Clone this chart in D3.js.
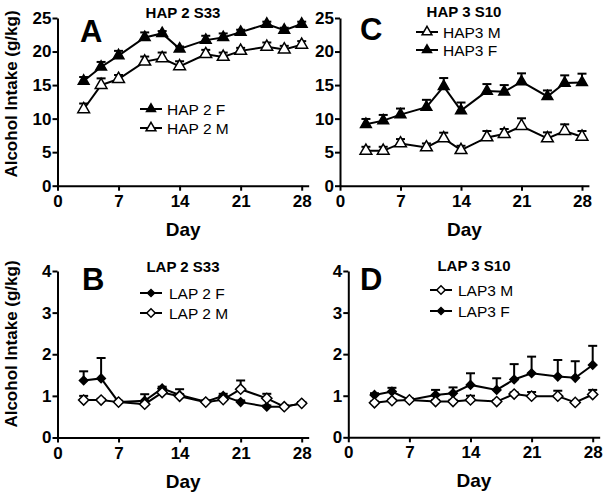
<!DOCTYPE html>
<html>
<head>
<meta charset="utf-8">
<script src="https://cdn.jsdelivr.net/npm/d3@7"></script>
<style>
    body { margin: 0; background: #fff; }
    svg text { font-family: Arial, "Liberation Sans", sans-serif; fill: #000; }
    .axis path, .axis line { stroke: #000; stroke-width: 2; }
    .axis text { font-size: 17px; font-weight: bold; font-family: Arial, "Liberation Sans", sans-serif; }
</style>
</head>
<body>
<svg id="chart" width="604" height="496"></svg>
<script>
// data
const days = [3, 5, 7, 10, 12, 14, 17, 19, 21, 24, 26, 28];
const xTicks = [0, 7, 14, 21, 28];
const hapTicks = [0, 5, 10, 15, 20, 25];
const lapTicks = [0, 1, 2, 3, 4];

const hap2F = [15.6, 17.7, 19.4, 22.1, 22.7, 20.4, 21.7, 22.1, 22.9, 24.1, 23.2, 24.1];
const hap2FErr = [0.6, 0.75, 0.7, 0.75, 0.35, 0.35, 0.65, 0.6, 0.35, 0.35, 0.35, 0.35];
const hap2M = [11.4, 15.0, 15.9, 18.5, 19.0, 17.8, 19.6, 19.2, 20.1, 20.7, 20.3, 21.0];
const hap2MErr = [0.85, 1.0, 0.6, 0.75, 0.85, 0.75, 0.65, 0.65, 0.45, 0.65, 0.55, 0.55];

const hap3M = [5.2, 5.2, 6.3, 5.7, 7.05, 5.3, 7.2, 7.7, 8.9, 7.05, 8.15, 7.3];
const hap3MErr = [0.6, 0.6, 0.65, 0.6, 0.85, 0.65, 0.95, 0.75, 1.15, 0.9, 1.0, 0.85];
const hap3F = [9.15, 9.7, 10.6, 11.7, 14.8, 11.2, 14.1, 14.0, 15.5, 13.3, 15.3, 15.4];
const hap3FErr = [0.8, 0.85, 0.9, 1.1, 1.25, 1.2, 1.05, 1.0, 1.25, 0.9, 1.15, 1.3];

const lap2F = [1.37, 1.42, 0.85, 0.88, 1.18, 1.02, 0.86, 1.0, 0.85, 0.74, 0.74, 0.82];
const lap2FErr = [0.22, 0.49, 0.03, 0.16, 0.04, 0.14, 0.03, 0.05, 0.04, 0.03, 0.03, 0.03];
const lap2M = [0.9, 0.9, 0.85, 0.8, 1.08, 0.99, 0.85, 0.91, 1.16, 0.94, 0.74, 0.82];
const lap2MErr = [0.1, 0.03, 0.03, 0.05, 0.05, 0.05, 0.03, 0.04, 0.21, 0.11, 0.03, 0.03];

const lap3M = [0.83, 0.88, 0.9, 0.86, 0.86, 0.9, 0.86, 1.04, 0.99, 0.99, 0.84, 1.03];
const lap3MErr = [0.03, 0.03, 0.03, 0.04, 0.04, 0.1, 0.03, 0.04, 0.1, 0.13, 0.03, 0.11];
const lap3F = [1.02, 1.1, 0.9, 1.02, 1.06, 1.26, 1.14, 1.39, 1.54, 1.46, 1.43, 1.74];
const lap3FErr = [0.04, 0.09, 0.03, 0.12, 0.14, 0.28, 0.28, 0.37, 0.4, 0.4, 0.4, 0.46];

let svg = d3.select("#chart");

// panel layout (pixel positions measured on the figure)
let panels = [
    {letter: "A", title: "HAP 2 S33", x0: 57.5, x28: 301.7, yTop: 18, yBot: 185.7, yMax: 25, ticks: hapTicks,
        ylabelY: 94, letterX: 80, letterY: 42, titleX: 183, titleY: 18,
        legX: 151, legTextX: 167, legRows: [109, 128],
        series: [
            {name: "HAP 2 F", vals: hap2F, err: hap2FErr, shape: "tri", filled: true, row: 0},
            {name: "HAP 2 M", vals: hap2M, err: hap2MErr, shape: "tri", filled: false, row: 1}
        ]},
    {letter: "C", title: "HAP 3 S10", x0: 340, x28: 582, yTop: 18, yBot: 185.7, yMax: 25, ticks: hapTicks,
        ylabelY: null, letterX: 360, letterY: 40, titleX: 464, titleY: 17,
        legX: 427, legTextX: 443, legRows: [32, 50],
        series: [
            {name: "HAP3 F", vals: hap3F, err: hap3FErr, shape: "tri", filled: true, row: 1},
            {name: "HAP3 M", vals: hap3M, err: hap3MErr, shape: "tri", filled: false, row: 0}
        ]},
    {letter: "B", title: "LAP 2 S33", x0: 57.5, x28: 301.7, yTop: 271, yBot: 437.5, yMax: 4, ticks: lapTicks,
        ylabelY: 344, letterX: 82, letterY: 290, titleX: 183, titleY: 272,
        legX: 151, legTextX: 169, legRows: [293, 313],
        series: [
            {name: "LAP 2 F", vals: lap2F, err: lap2FErr, shape: "dia", filled: true, row: 0},
            {name: "LAP 2 M", vals: lap2M, err: lap2MErr, shape: "dia", filled: false, row: 1}
        ]},
    {letter: "D", title: "LAP 3 S10", x0: 348.3, x28: 592.7, yTop: 271, yBot: 437.3, yMax: 4, ticks: lapTicks,
        ylabelY: null, letterX: 360, letterY: 290, titleX: 474, titleY: 271,
        legX: 441, legTextX: 458, legRows: [290, 311],
        series: [
            {name: "LAP3 F", vals: lap3F, err: lap3FErr, shape: "dia", filled: true, row: 1},
            {name: "LAP3 M", vals: lap3M, err: lap3MErr, shape: "dia", filled: false, row: 0}
        ]}
];

function marker(sel, s, scale) {
    let k = scale || 1;
    let sym = s.shape == "tri"
        ? d3.symbol().type(d3.symbolTriangle).size((s.filled ? 50 : 60) * k)
        : d3.symbol().type(d3.symbolSquare).size((s.filled ? 36 : 52) * k);
    sel.append("path")
        .attr("d", sym())
        .attr("fill", s.filled ? "#000" : "#fff")
        .attr("stroke", "#000")
        .attr("stroke-width", 1.5)
        .attr("transform", d => "translate(" + d[0] + "," + d[1] + ")" + (s.shape == "dia" ? " rotate(45)" : ""));
}

function drawPanel(p) {
    let pxPerDay = (p.x28 - p.x0) / 28;
    let x = d3.scaleLinear().domain([0, 28.8]).range([p.x0, p.x0 + 28.8 * pxPerDay]);
    let y = d3.scaleLinear().domain([0, p.yMax]).range([p.yBot, p.yTop]);
    let g = svg.append("g");

    g.append("g")
        .attr("class", "axis")
        .attr("transform", "translate(0," + p.yBot + ")")
        .call(d3.axisBottom(x).tickValues(xTicks).tickFormat(d3.format("d"))
            .tickSize(5).tickSizeOuter(0).tickPadding(4));

    g.append("g")
        .attr("class", "axis")
        .attr("transform", "translate(" + p.x0 + ",0)")
        .call(d3.axisLeft(y).tickValues(p.ticks).tickFormat(d3.format("d"))
            .tickSize(5).tickSizeOuter(0).tickPadding(1));

    // title, letter, axis labels
    g.append("text").attr("x", p.titleX).attr("y", p.titleY)
        .attr("text-anchor", "middle").style("font-size", "15px").style("font-weight", "bold")
        .text(p.title);
    g.append("text").attr("x", p.letterX).attr("y", p.letterY)
        .style("font-size", "31px").style("font-weight", "bold")
        .text(p.letter);
    g.append("text").attr("x", (p.x0 + x(28.8)) / 2).attr("y", p.yBot + 50)
        .attr("text-anchor", "middle").style("font-size", "19px").style("font-weight", "bold")
        .text("Day");
    if (p.ylabelY != null) {
        g.append("text")
            .attr("transform", "translate(17," + p.ylabelY + ") rotate(-90)")
            .attr("text-anchor", "middle").style("font-size", "17px").style("font-weight", "bold")
            .text("Alcohol Intake (g/kg)");
    }

    // series: error bars, line, markers
    p.series.forEach(s => {
        let pts = days.map((d, i) => [x(d), y(s.vals[i]), y(s.vals[i] + s.err[i])]);
        let eg = g.append("g").attr("stroke", "#000").attr("stroke-width", 2);
        pts.forEach(pt => {
            eg.append("line").attr("x1", pt[0]).attr("x2", pt[0]).attr("y1", pt[1]).attr("y2", pt[2]);
            eg.append("line").attr("x1", pt[0] - 4.5).attr("x2", pt[0] + 4.5).attr("y1", pt[2]).attr("y2", pt[2]);
        });
        g.append("path")
            .attr("d", d3.line()(pts.map(pt => [pt[0], pt[1]])))
            .attr("fill", "none").attr("stroke", "#000").attr("stroke-width", 2);
        g.append("g").selectAll("path").data(pts).enter()
            .call(sel => marker(sel, s));

        // legend entry
        let ly = p.legRows[s.row];
        g.append("line").attr("x1", p.legX - 11).attr("x2", p.legX + 11).attr("y1", ly).attr("y2", ly)
            .attr("stroke", "#000").attr("stroke-width", 2);
        g.append("g").selectAll("path").data([[p.legX, ly]]).enter()
            .call(sel => marker(sel, s, 0.7));
        g.append("text").attr("x", p.legTextX).attr("y", ly + 5.5)
            .style("font-size", "15.5px")
            .text(s.name);
    });
}

panels.forEach(drawPanel);
</script>
</body>
</html>
